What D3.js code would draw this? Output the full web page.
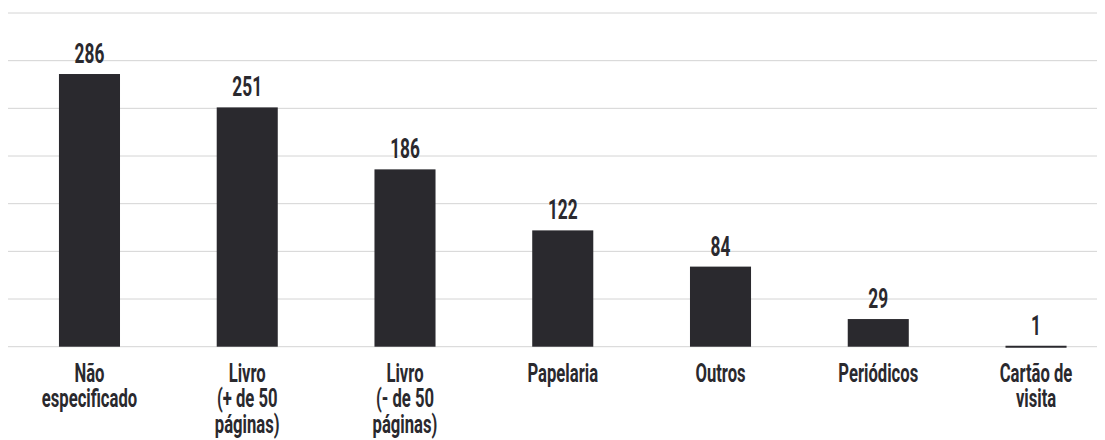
<!DOCTYPE html>
<html>
<head>
<meta charset="utf-8">
<script src="https://cdn.jsdelivr.net/npm/d3@7"></script>
<style>
  html, body { margin: 0; padding: 0; background: #fff; }
  svg text { font-family: Roboto, "DejaVu Sans", sans-serif; font-weight: 700; fill: #2a292e; }
</style>
</head>
<body>
<svg id="chart" width="1105" height="440"></svg>
<script>
// chart data
const categories = [
  ["Não", "especificado"],
  ["Livro", "(+ de 50", "páginas)"],
  ["Livro", "(- de 50", "páginas)"],
  ["Papelaria"],
  ["Outros"],
  ["Periódicos"],
  ["Cartão de", "visita"]
];
const values = [286, 251, 186, 122, 84, 29, 1];
const gridTicks = [0, 50, 100, 150, 200, 250, 300, 350];

const svgWidth = 1105, svgHeight = 440;
const squeeze = 0.64; // condensed look for the labels

const svg = d3.select("#chart");

const x = d3.scaleBand()
  .domain(d3.range(values.length))
  .range([10.6, 1114.9])
  .paddingInner(0.613)
  .paddingOuter(0.3065);

const y = d3.scaleLinear()
  .domain([0, 350])
  .range([346.7, 13]);

// horizontal grid lines
svg.append("g")
  .selectAll("line")
  .data(gridTicks)
  .join("line")
  .attr("x1", 8)
  .attr("x2", 1097)
  .attr("y1", (d) => y(d))
  .attr("y2", (d) => y(d))
  .attr("stroke", "#d4d4d4")
  .attr("stroke-width", 1);

// bars
svg.append("g")
  .selectAll("rect")
  .data(values)
  .join("rect")
  .attr("x", (d, i) => x(i))
  .attr("width", x.bandwidth())
  .attr("y", (d) => y(d))
  .attr("height", (d) => Math.max(y(0) - y(d), 2))
  .attr("fill", "#2a292e");

// value labels above bars
svg.append("g")
  .selectAll("text")
  .data(values)
  .join("text")
  .attr("transform", (d, i) =>
    `translate(${x(i) + x.bandwidth() / 2},${y(d) - 11}) scale(${squeeze},1)`)
  .attr("text-anchor", "middle")
  .attr("font-size", "27px")
  .text((d) => d);

// category labels, one tspan per line
const labels = svg.append("g")
  .selectAll("text")
  .data(categories)
  .join("text")
  .attr("transform", (d, i) =>
    `translate(${x(i) + x.bandwidth() / 2},381.7) scale(${squeeze},1)`)
  .attr("text-anchor", "middle")
  .attr("font-size", "26px");

labels.selectAll("tspan")
  .data((d) => d)
  .join("tspan")
  .attr("x", 0)
  .attr("y", (d, j) => j * 25.5)
  .text((d) => d);
</script>
</body>
</html>
